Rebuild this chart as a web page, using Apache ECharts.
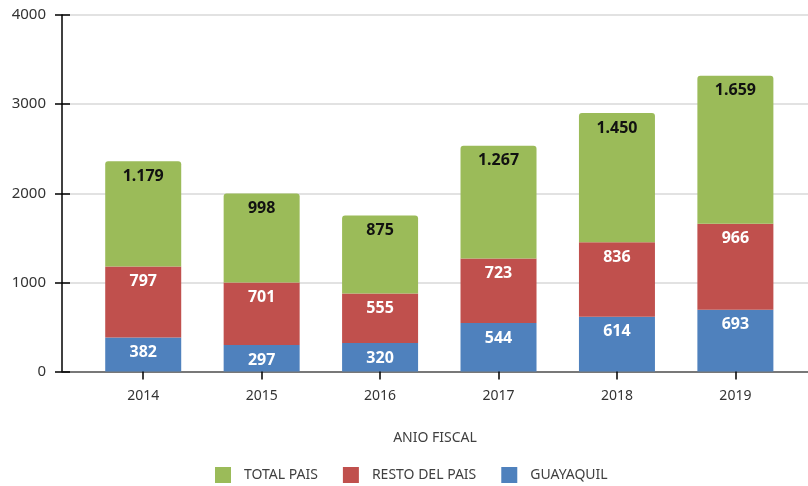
<!DOCTYPE html>
<html>
<head>
<meta charset="utf-8">
<script src="https://cdn.jsdelivr.net/npm/echarts@6/dist/echarts.min.js"></script>
<style>
  html, body { margin: 0; padding: 0; background: #fff; }
  #chart { width: 808px; height: 486px; }
</style>
</head>
<body>
<div id="chart"></div>
<script>
// datos
const years = ['2014', '2015', '2016', '2017', '2018', '2019']
const guayaquil = [382, 297, 320, 544, 614, 693]
const restoPais = [797, 701, 555, 723, 836, 966]
const totalPais = [1179, 998, 875, 1267, 1450, 1659]
const yTicks = [0, 1000, 2000, 3000, 4000]

const chart = echarts.init(document.getElementById('chart'))
const font = 'Noto Sans'

// separador de miles con punto
const fmt = v => String(v).replace(/\B(?=(\d{3})+(?!\d))/g, '.')

const labelWhite = {
  show: true,
  position: 'insideTop',
  distance: 7,
  color: '#fff',
  fontFamily: font,
  fontWeight: 'bold',
  fontSize: 16,
}

const option = {
  animation: false,
  // grid 0: ejes y lineas de fondo, grid 1: barras
  grid: [
    { left: 62, right: 0, top: 15, bottom: 114.5 },
    { left: 84, right: 13.4, top: 15, bottom: 114.5 },
  ],
  legend: {
    data: ['TOTAL PAIS', 'RESTO DEL PAIS', 'GUAYAQUIL'],
    left: 210,
    top: 462,
    itemWidth: 16,
    itemHeight: 16,
    itemGap: 25,
    icon: 'rect',
    textStyle: { fontFamily: font, fontSize: 14, color: '#404040', padding: [0, 0, 0, 8] },
  },
  xAxis: [
    {
      gridIndex: 0,
      type: 'value',
      min: 0,
      max: 1,
      axisLine: { show: true, onZero: false, lineStyle: { color: '#555', width: 1.5 } },
      axisTick: { show: false },
      axisLabel: { show: false },
      splitLine: { show: false },
      name: 'ANIO FISCAL',
      nameLocation: 'middle',
      nameGap: 60,
      nameTextStyle: { fontFamily: font, fontSize: 14, color: '#404040' },
    },
    {
      gridIndex: 1,
      type: 'category',
      data: years,
      position: 'bottom',
      axisLine: { show: false },
      axisTick: { show: true, alignWithLabel: true, length: 8, lineStyle: { color: '#000', width: 1.5 } },
      axisLabel: { fontFamily: font, fontSize: 14, color: '#333', margin: 18 },
    },
    {
      gridIndex: 1,
      type: 'category',
      data: years,
      position: 'bottom',
      axisLine: { show: false },
      axisTick: { show: true, inside: true, alignWithLabel: true, length: 8, lineStyle: { color: '#000', width: 1.5 } },
      axisLabel: { show: false },
    },
  ],
  yAxis: [
    {
      gridIndex: 0,
      type: 'value',
      min: yTicks[0],
      max: yTicks[yTicks.length - 1],
      interval: 1000,
      axisLine: { show: true, lineStyle: { color: '#000', width: 1.5 } },
      axisTick: { show: true, length: 7, lineStyle: { color: '#000', width: 1.5 } },
      axisLabel: { fontFamily: font, fontSize: 15, color: '#333', margin: 16, formatter: v => String(v) },
      splitLine: { show: true, lineStyle: { color: '#d9d9d9', width: 1.5 } },
    },
    {
      gridIndex: 0,
      type: 'value',
      min: 0,
      max: 4000,
      interval: 1000,
      position: 'left',
      axisLine: { show: false },
      axisTick: { show: true, inside: true, length: 8, lineStyle: { color: '#000', width: 1.5 } },
      axisLabel: { show: false },
      splitLine: { show: false },
    },
    {
      gridIndex: 1,
      type: 'value',
      min: 0,
      max: 4000,
      show: false,
    },
  ],
  series: [
    {
      name: 'GUAYAQUIL',
      type: 'bar',
      stack: 'total',
      xAxisIndex: 1,
      yAxisIndex: 2,
      barWidth: 76,
      data: guayaquil,
      itemStyle: { color: '#4F81BD' },
      label: labelWhite,
    },
    {
      name: 'RESTO DEL PAIS',
      type: 'bar',
      stack: 'total',
      xAxisIndex: 1,
      yAxisIndex: 2,
      barWidth: 76,
      data: restoPais,
      itemStyle: { color: '#C0504D' },
      label: labelWhite,
    },
    {
      name: 'TOTAL PAIS',
      type: 'bar',
      stack: 'total',
      xAxisIndex: 1,
      yAxisIndex: 2,
      barWidth: 76,
      data: totalPais,
      itemStyle: { color: '#9BBB59', borderRadius: [3, 3, 0, 0] },
      label: {
        ...labelWhite,
        color: '#111',
        formatter: p => fmt(p.value),
      },
    },
  ],
}

chart.setOption(option)
</script>
</body>
</html>
